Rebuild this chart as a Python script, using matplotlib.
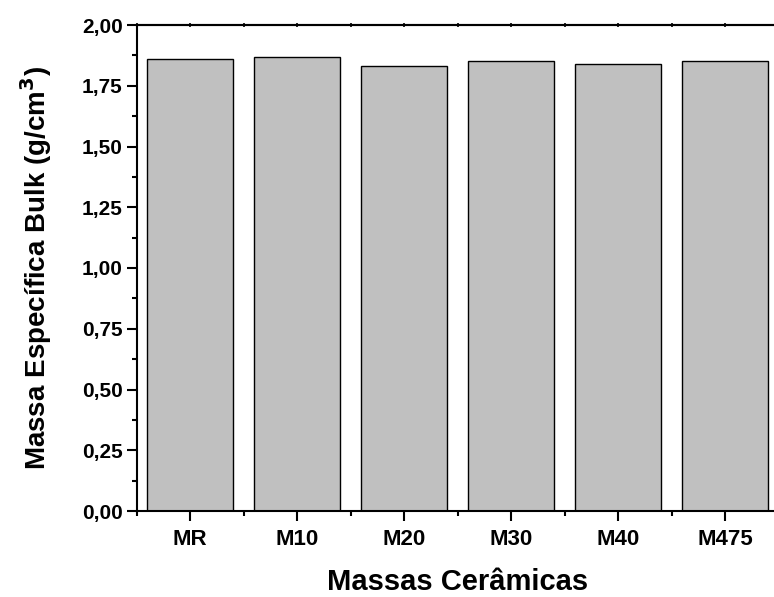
import numpy as np
import matplotlib.pyplot as plt
from matplotlib.ticker import MultipleLocator, FuncFormatter

# Massa específica bulk de cada massa cerâmica
massas = ['MR', 'M10', 'M20', 'M30', 'M40', 'M475']
densidade = [1.86, 1.87, 1.83, 1.85, 1.84, 1.85]

plt.rcParams['font.family'] = ['Liberation Sans', 'DejaVu Sans']
plt.rcParams['font.weight'] = 'bold'

fig = plt.figure(figsize=(7.74, 5.97), dpi=100)
# eixo se estende um pouco além da borda direita
ax = fig.add_axes([136.7 / 774, 1 - 511 / 597, 642 / 774, 486 / 597])

x = np.arange(len(massas))
ax.bar(x, densidade, width=0.8, color='#c0c0c0', edgecolor='black', linewidth=1.0)

ax.set_xlim(-0.5, len(massas) - 0.5)
ax.set_ylim(0, 2.0)
ax.set_xticks(x)
ax.set_xticklabels(massas)
ax.xaxis.set_minor_locator(MultipleLocator(0.5))
ax.yaxis.set_major_locator(MultipleLocator(0.25))
ax.yaxis.set_minor_locator(MultipleLocator(0.125))
ax.yaxis.set_major_formatter(FuncFormatter(lambda v, p: f'{v:.2f}'.replace('.', ',')))

for s in ax.spines.values():
    s.set_linewidth(1.5)

ax.tick_params(axis='both', which='major', direction='out', length=7.2, width=1.5, pad=3)
ax.tick_params(axis='both', which='minor', direction='out', length=3.5, width=1.5)
ax.tick_params(axis='y', which='major', labelsize=15)
ax.tick_params(axis='x', which='major', labelsize=16, pad=5.5)

# marcas pequenas no eixo superior
top = ax.secondary_xaxis('top')
top.set_xticks(x)
top.xaxis.set_minor_locator(MultipleLocator(0.5))
top.tick_params(which='both', direction='inout', length=2.5, width=1.2,
                labeltop=False)
top.spines['top'].set_linewidth(1.5)

ax.set_xlabel('Massas Cerâmicas', fontsize=21, fontweight='bold', labelpad=13)
ax.set_ylabel('Massa Específica Bulk (g/cm$^\\mathbf{3}$)', fontsize=20,
              fontweight='bold', labelpad=20)

fig.savefig('out.png', dpi=100)
